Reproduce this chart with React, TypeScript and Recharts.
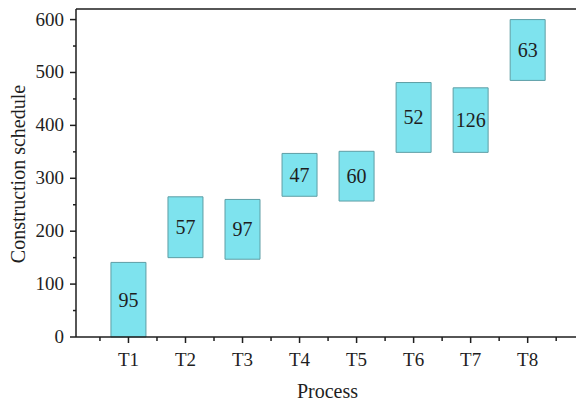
import { Bar, BarChart, LabelList, ReferenceLine, XAxis, YAxis } from 'recharts';

const processes = ['T1', 'T2', 'T3', 'T4', 'T5', 'T6', 'T7', 'T8'];
const starts = [0, 150, 147, 266, 257, 349, 349, 485];
const ends = [141, 265, 260, 347, 351, 481, 471, 600];
const durations = [95, 57, 97, 47, 60, 52, 126, 63];
const yTicks = [0, 50, 100, 150, 200, 250, 300, 350, 400, 450, 500, 550, 600];
const xTicks = [0.5, 1, 1.5, 2, 2.5, 3, 3.5, 4, 4.5, 5, 5.5, 6, 6.5, 7, 7.5, 8, 8.5];

const chartData = processes.map((name, i) => ({
  pos: i + 1,
  name,
  range: [starts[i], ends[i]],
  duration: durations[i],
}));

const font = '"Liberation Serif", "Times New Roman", serif';
const ink = '#1e1e1e';

function XTick(props: any) {
  const { x, y, payload } = props;
  const v = payload.value;
  const major = Number.isInteger(v);
  return (
    <g>
      <line x1={x} x2={x} y1={y} y2={y + (major ? 6 : 4)} stroke={ink} strokeWidth={1.5} />
      {major && (
        <text x={x} y={y + 29} textAnchor="middle" fontFamily={font} fontSize={19} fill={ink}>
          {processes[v - 1]}
        </text>
      )}
    </g>
  );
}

function YTick(props: any) {
  const { x, y, payload } = props;
  const v = payload.value;
  const major = v % 100 === 0;
  return (
    <g>
      <line x1={x - (major ? 6 : 3)} x2={x} y1={y} y2={y} stroke={ink} strokeWidth={1.5} />
      {major && (
        <text x={x - 12} y={y + 6} textAnchor="end" fontFamily={font} fontSize={19} fill={ink}>
          {v}
        </text>
      )}
    </g>
  );
}

function DurationLabel(props: any) {
  const { x, y, width, height, value } = props;
  return (
    <text
      x={x + width / 2}
      y={y + height / 2}
      textAnchor="middle"
      dominantBaseline="central"
      style={{ fontFamily: font }}
      fontSize={20}
      fill={ink}
    >
      {value}
    </text>
  );
}

export default function App() {
  return (
    <div style={{ position: 'absolute', left: 0, top: 0, width: 576, height: 405, overflow: 'hidden', background: '#fff' }}>
      <BarChart
        width={580}
        height={405}
        data={chartData}
        margin={{ top: 9, right: 1, left: 0, bottom: 0 }}
      >
        <XAxis
          dataKey="pos"
          type="number"
          domain={[0.08, 8.9]}
          ticks={xTicks}
          interval={0}
          height={68}
          tickSize={0}
          tickMargin={0}
          tickLine={false}
          stroke={ink}
          strokeWidth={1.5}
          tick={<XTick />}
          label={{
            value: 'Process',
            position: 'insideBottom',
            offset: 7,
            fontFamily: font,
            fontSize: 20,
            fill: ink,
          }}
        />
        <YAxis
          type="number"
          domain={[0, 620]}
          ticks={yTicks}
          interval={0}
          width={76}
          tickSize={0}
          tickMargin={0}
          tickLine={false}
          stroke={ink}
          strokeWidth={1.5}
          tick={<YTick />}
          label={{
            content: () => (
              <text
                x={18}
                y={174}
                transform="rotate(-90 18 174)"
                textAnchor="middle"
                dominantBaseline="central"
                fontFamily={font}
                fontSize={20}
                fill={ink}
              >
                Construction schedule
              </text>
            ),
          }}
        />
        <ReferenceLine y={620} stroke={ink} strokeWidth={1.5} ifOverflow="visible" />
        <Bar
          dataKey="range"
          barSize={35}
          fill="#7EE3EE"
          stroke="#5E9EA5"
          strokeWidth={1}
          isAnimationActive={false}
        >
          <LabelList dataKey="duration" content={<DurationLabel />} />
        </Bar>
      </BarChart>
    </div>
  );
}
